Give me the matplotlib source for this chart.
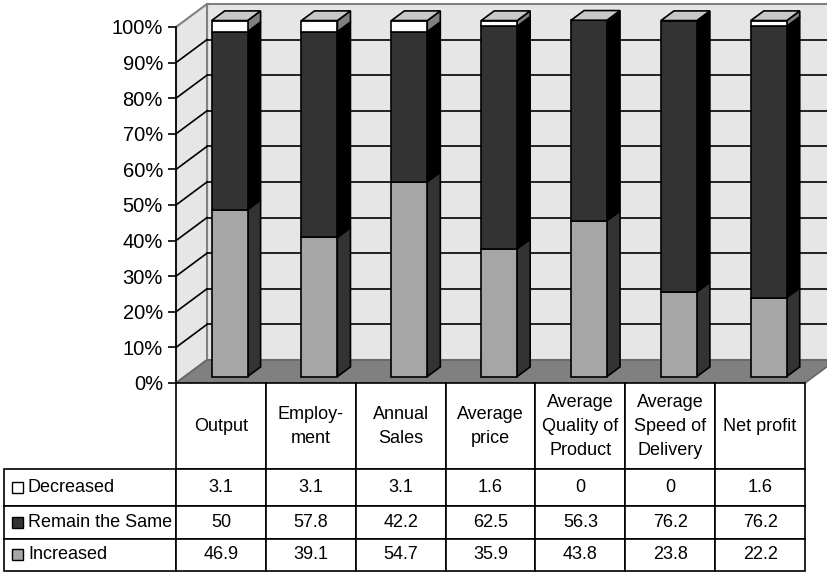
import numpy as np
import matplotlib.pyplot as plt
from matplotlib.patches import Polygon, Rectangle

plt.rcParams['font.family'] = ['Liberation Sans', 'DejaVu Sans']

# %% data
categories = ["Output", "Employ-\nment", "Annual\nSales", "Average\nprice",
              "Average\nQuality of\nProduct", "Average\nSpeed of\nDelivery", "Net profit"]
row_names = ["Decreased", "Remain the Same", "Increased"]
decreased = [3.1, 3.1, 3.1, 1.6, 0, 0, 1.6]
remain = [50, 57.8, 42.2, 62.5, 56.3, 76.2, 76.2]
increased = [46.9, 39.1, 54.7, 35.9, 43.8, 23.8, 22.2]
yticks = list(range(0, 101, 10))

front_col = {"Increased": "#a6a6a6", "Remain the Same": "#333333", "Decreased": "#ffffff"}
side_col = {"Increased": "#333333", "Remain the Same": "#000000", "Decreased": "#808080"}
top_col = "#c8c8c8"

# oblique "3d" shift for full depth, in data units
DX, DY = 0.345, 6.46
D0, D1 = 0.28, 0.70
BW = 0.4


def P(x, y, d):
    return (x + DX * d, y + DY * d)


fig = plt.figure(figsize=(8.28, 5.72), dpi=100)
ax = fig.add_axes([176 / 828, 189 / 572, 629 / 828, 356 / 572])
ax.set_xlim(-0.5, len(categories) - 0.5)
ax.set_ylim(0, 100)
ax.patch.set_visible(False)


def poly(pts, fc, ec='black', lw=1.2, z=3):
    ax.add_patch(Polygon(pts, closed=True, facecolor=fc, edgecolor=ec,
                         linewidth=lw, zorder=z, clip_on=False))


x0, x1 = ax.get_xlim()
# walls and floor
poly([P(x0, 0, 1), P(x1, 0, 1), P(x1, 100, 1), P(x0, 100, 1)], '#e6e6e6', '#808080', 1.5, 0)
poly([P(x0, 0, 0), P(x0, 0, 1), P(x0, 100, 1), P(x0, 100, 0)], '#e6e6e6', '#808080', 1.5, 0)
for g in yticks[1:-1]:
    ax.plot(*zip(P(x0, g, 1), P(x1, g, 1)), color='black', lw=1.2, zorder=0.5, clip_on=False)
    ax.plot(*zip(P(x0, g, 0), P(x0, g, 1)), color='black', lw=1.2, zorder=0.5, clip_on=False)
poly([P(x0, 0, 0), P(x1, 0, 0), P(x1, 0, 1), P(x0, 0, 1)], '#808080', '#666666', 1.2, 1)

# bars
stack = [("Increased", increased), ("Remain the Same", remain), ("Decreased", decreased)]
for i in range(len(categories)):
    xl, xr = i - BW / 2, i + BW / 2
    bottom = 0
    for name, vals in stack:
        top = bottom + vals[i]
        if vals[i] > 0:
            poly([P(xr, bottom, D0), P(xr, bottom, D1), P(xr, top, D1), P(xr, top, D0)], side_col[name])
            poly([P(xl, bottom, D0), P(xr, bottom, D0), P(xr, top, D0), P(xl, top, D0)], front_col[name])
        bottom = top
    poly([P(xl, bottom, D0), P(xr, bottom, D0), P(xr, bottom, D1), P(xl, bottom, D1)], top_col)

for s in ['top', 'right', 'bottom']:
    ax.spines[s].set_visible(False)
ax.spines['left'].set_linewidth(1.2)
ax.set_xticks([])
ax.set_yticks(yticks)
ax.set_yticklabels([f"{v}%" for v in yticks])
ax.tick_params(axis='y', length=5.8, width=1.2, pad=3.6, labelsize=14.5)

# %% data table, row names as an ordinary first column
tax = fig.add_axes([4 / 828, 1 / 572, 801 / 828, 188 / 572])
tax.axis('off')
cell_text = [[name] + [f"{v:g}" for v in vals]
             for name, vals in zip(row_names, (decreased, remain, increased))]
tbl = tax.table(cellText=cell_text, colLabels=[""] + categories,
                cellLoc='center', bbox=[0, 0, 1, 1])
tbl.auto_set_font_size(False)
tbl.set_fontsize(13)
heights = [86, 36, 33, 32]
for (r, c), cell in tbl.get_celld().items():
    cell.set_height(heights[r])
    cell.set_width(172 if c == 0 else 629 / 7)
    cell.set_linewidth(1.2)
    if r == 0:
        cell.get_text().set_linespacing(1.55)
    if c == 0:
        cell.get_text().set_horizontalalignment('left')
        cell.PAD = 24 / 172
        if r == 0:
            cell.visible_edges = 'open'
            cell.set_facecolor('none')

# legend keys in the row name cells
total_h = sum(heights)
ypos = heights[0]
for k, name in enumerate(row_names):
    h = heights[k + 1]
    yc = 1 - (ypos + h / 2) / total_h
    tax.add_patch(Rectangle((8 / 801, yc - 5.5 / 188), 11 / 801, 11 / 188,
                            facecolor=front_col[name], edgecolor='black', lw=1.0,
                            transform=tax.transAxes, clip_on=False, zorder=5))
    ypos += h

fig.savefig("out.png", dpi=100)
